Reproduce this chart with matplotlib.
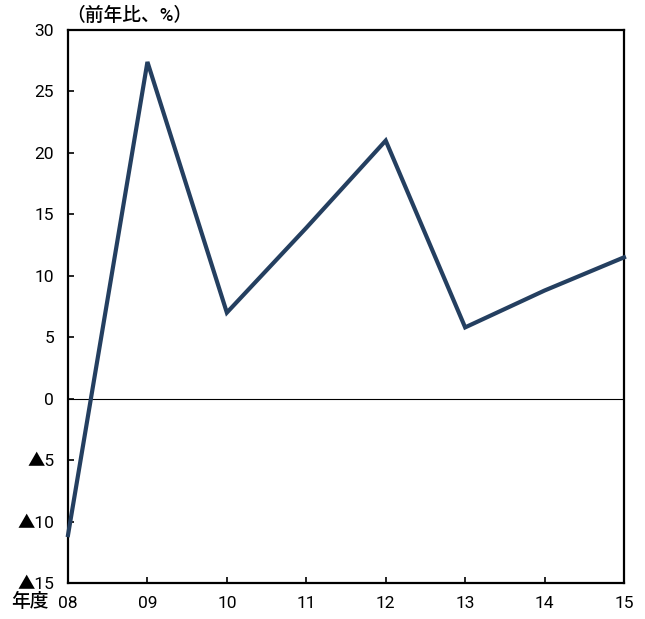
#!/usr/bin/env python3
''' year-on-year growth line chart '''
import matplotlib
matplotlib.use('Agg')
import matplotlib.pyplot as plt

plt.rcParams['font.family'] = ['Roboto', 'Noto Sans CJK JP']

years = ['08', '09', '10', '11', '12', '13', '14', '15']
growth = [-11.1, 27.4, 7.0, 13.9, 21.0, 5.8, 8.8, 11.5]
yticks = [-15, -10, -5, 0, 5, 10, 15, 20, 25, 30]
ylabels = ['▲15', '▲10', '▲5', '0', '5', '10', '15', '20', '25', '30']


def chart():
    fig = plt.figure(figsize=(6.45, 6.19), dpi=100)
    ax = fig.add_axes([68 / 645, 1 - 583 / 619, 556 / 645, 553 / 619])
    x = list(range(len(years)))
    ax.axhline(0, color='black', linewidth=0.8, zorder=1)
    ax.plot(x, growth, color='#243f60', linewidth=3, zorder=3,
            solid_joinstyle='miter', clip_on=False)
    ax.set_xlim(0, len(years) - 1)
    ax.set_ylim(-15, 30)
    ax.set_xticks(x)
    ax.set_xticklabels(years)
    ax.set_yticks(yticks)
    ax.set_yticklabels(ylabels)
    ax.tick_params(direction='in', length=4, width=1.2, labelsize=12.5,
                   colors='black')
    ax.tick_params(axis='x', pad=9)
    ax.tick_params(axis='y', pad=10)
    for s in ax.spines.values():
        s.set_linewidth(1.6)
    fig.text(66 / 645, 1 - 16 / 619, '（前年比、%）', fontsize=13.5,
             fontweight='medium', ha='left', va='center')
    fig.text(30 / 645, 1 - 602 / 619, '年度', fontsize=13.5,
             fontweight='medium', ha='center', va='center')
    fig.savefig('out.png', dpi=100)


chart()
